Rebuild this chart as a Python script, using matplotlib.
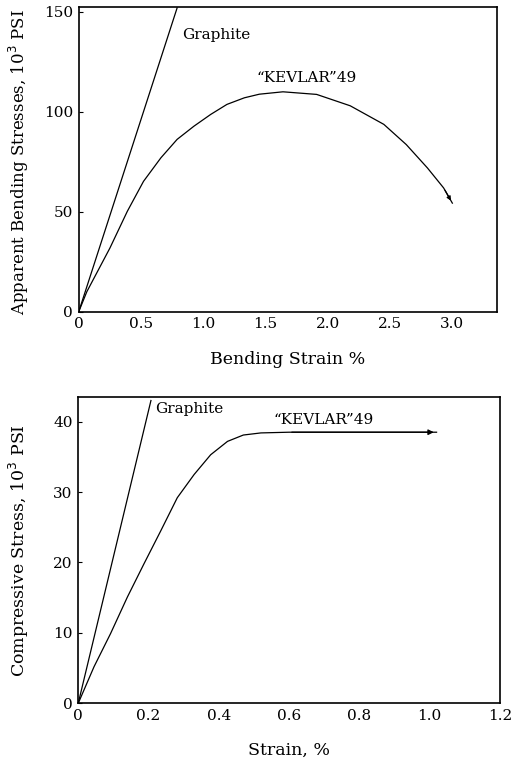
# Bending and compressive stress-strain curves, graphite vs "KEVLAR" 49

import matplotlib
matplotlib.use("Agg")
import matplotlib.pyplot as plt

# top chart: apparent bending stress (10^3 psi) vs bending strain (%)
bend_graphite_x = [0.0, 0.79]
bend_graphite_y = [0.0, 152]
bend_kevlar_x = [0.0, 0.065, 0.25, 0.39, 0.52, 0.66, 0.79, 0.925, 1.06, 1.19, 1.33,
                 1.45, 1.64, 1.91, 2.18, 2.45, 2.63, 2.80, 2.93, 3.0]
bend_kevlar_y = [0.0, 10, 31.8, 50.2, 65.2, 77, 86.2, 92.8, 98.7, 103.7, 107,
                 108.8, 110, 108.7, 103, 93.7, 83.6, 71.9, 61.9, 54.3]
bend_xticks = [0, 0.5, 1.0, 1.5, 2.0, 2.5, 3.0]
bend_xticklabels = ["0", "0.5", "1.0", "1.5", "2.0", "2.5", "3.0"]
bend_yticks = [0, 50, 100, 150]

# bottom chart: compressive stress (10^3 psi) vs strain (%)
comp_graphite_x = [0.0, 0.207]
comp_graphite_y = [0.0, 43]
comp_kevlar_x = [0.0, 0.045, 0.092, 0.14, 0.187, 0.235, 0.282, 0.33, 0.377, 0.425,
                 0.47, 0.52, 0.6, 1.02]
comp_kevlar_y = [0.0, 5.2, 9.9, 15.1, 19.8, 24.5, 29.2, 32.5, 35.3, 37.2,
                 38.1, 38.4, 38.5, 38.5]
comp_xticks = [0, 0.2, 0.4, 0.6, 0.8, 1.0, 1.2]
comp_xticklabels = ["0", "0.2", "0.4", "0.6", "0.8", "1.0", "1.2"]
comp_yticks = [0, 10, 20, 30, 40]

plt.rcParams["font.family"] = "DejaVu Serif"
plt.rcParams["font.size"] = 11

fig = plt.figure(figsize=(5.25, 7.62), dpi=100)
ax1 = fig.add_axes([0.150, 0.591, 0.797, 0.400])
ax2 = fig.add_axes([0.149, 0.077, 0.803, 0.402])

lw = 0.9

# top
ax1.plot(bend_graphite_x, bend_graphite_y, color="black", lw=lw)
ax1.plot(bend_kevlar_x, bend_kevlar_y, color="black", lw=lw)
ax1.annotate("", xy=(bend_kevlar_x[-1], bend_kevlar_y[-1]),
             xytext=(bend_kevlar_x[-2], bend_kevlar_y[-2]),
             arrowprops=dict(arrowstyle="-|>", color="black", lw=lw, mutation_scale=6))
ax1.text(0.83, 138.5, "Graphite", va="center", ha="left", fontsize=11)
ax1.text(1.43, 117, "\u201cKEVLAR\u201d49", va="center", ha="left", fontsize=11)
ax1.set_xlim(0, 3.36)
ax1.set_ylim(0, 152.5)
ax1.set_xticks(bend_xticks)
ax1.set_xticklabels(bend_xticklabels)
ax1.set_yticks(bend_yticks)
ax1.set_xlabel("Bending Strain %", fontsize=12.5, labelpad=14)
ax1.set_ylabel("Apparent Bending Stresses, 10$^3$ PSI", fontsize=12)
ax1.yaxis.set_label_coords(-0.115, 0.49)

# bottom
ax2.plot(comp_graphite_x, comp_graphite_y, color="black", lw=lw)
ax2.plot(comp_kevlar_x, comp_kevlar_y, color="black", lw=lw)
ax2.annotate("", xy=(comp_kevlar_x[-1], comp_kevlar_y[-1]),
             xytext=(comp_kevlar_x[-2], comp_kevlar_y[-2]),
             arrowprops=dict(arrowstyle="-|>", color="black", lw=lw, mutation_scale=8))
ax2.text(0.22, 41.8, "Graphite", va="center", ha="left", fontsize=11)
ax2.text(0.555, 40.2, "\u201cKEVLAR\u201d49", va="center", ha="left", fontsize=11)
ax2.set_xlim(0, 1.2)
ax2.set_ylim(0, 43.5)
ax2.set_xticks(comp_xticks)
ax2.set_xticklabels(comp_xticklabels)
ax2.set_yticks(comp_yticks)
ax2.set_xlabel("Strain, %", fontsize=12.5, labelpad=14)
ax2.set_ylabel("Compressive Stress, 10$^3$ PSI", fontsize=12.5)
ax2.yaxis.set_label_coords(-0.111, 0.5)

for ax in (ax1, ax2):
    ax.tick_params(direction="in", length=3, width=0.8, pad=4, labelsize=11)
    ax.tick_params(axis="x", length=0)
    for s in ax.spines.values():
        s.set_linewidth(1.2)

fig.savefig("out.png", dpi=100)
